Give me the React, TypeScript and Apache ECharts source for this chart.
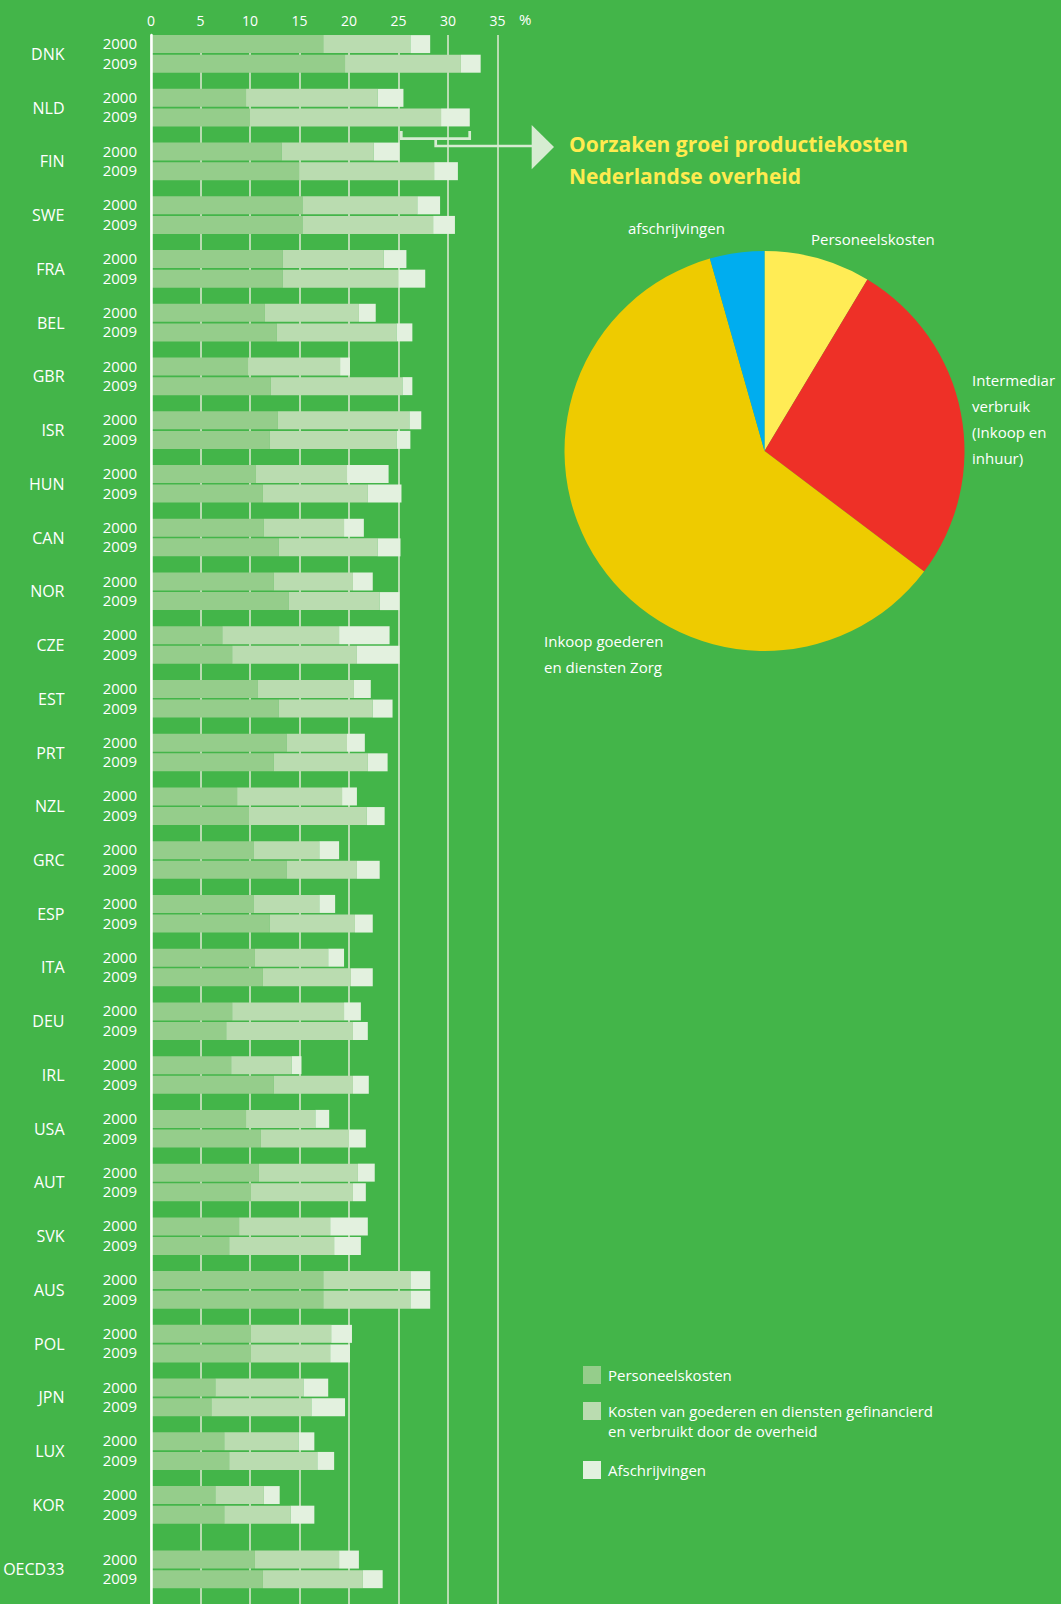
import React, { useEffect, useRef } from "react";
import * as echarts from "echarts";

// ---------- data ----------
const countries = ["DNK","NLD","FIN","SWE","FRA","BEL","GBR","ISR","HUN","CAN","NOR","CZE","EST","PRT","NZL","GRC","ESP","ITA","DEU","IRL","USA","AUT","SVK","AUS","POL","JPN","LUX","KOR","OECD33"];
const years = ["2000", "2009"];
const xTicks = [0, 5, 10, 15, 20, 25, 30, 35];
const segmentNames = ["Personeelskosten", "Kosten van goederen en diensten gefinancierd\nen verbruikt door de overheid", "Afschrijvingen"];

const pers2000 = [17.4, 9.6, 13.2, 15.3, 13.3, 11.5, 9.8, 12.8, 10.6, 11.4, 12.4, 7.2, 10.8, 13.7, 8.7, 10.4, 10.4, 10.5, 8.2, 8.1, 9.6, 10.9, 8.9, 17.4, 10.1, 6.5, 7.4, 6.5, 10.5];
const goods2000 = [8.8, 13.3, 9.3, 11.6, 10.2, 9.5, 9.3, 13.3, 9.2, 8.1, 8.0, 11.8, 9.7, 6.1, 10.6, 6.6, 6.6, 7.4, 11.3, 6.1, 7.0, 10.0, 9.2, 8.8, 8.1, 8.9, 7.5, 4.9, 8.5];
const afs2000 = [2.0, 2.6, 2.6, 2.3, 2.3, 1.7, 1.0, 1.2, 4.2, 2.0, 2.0, 5.1, 1.7, 1.8, 1.5, 2.0, 1.6, 1.6, 1.7, 1.0, 1.4, 1.7, 3.8, 2.0, 2.1, 2.5, 1.6, 1.6, 2.0];
const pers2009 = [19.6, 10.0, 15.0, 15.3, 13.3, 12.7, 12.1, 12.0, 11.3, 12.9, 13.9, 8.2, 12.9, 12.4, 9.9, 13.7, 12.0, 11.3, 7.6, 12.4, 11.1, 10.1, 7.9, 17.4, 10.1, 6.1, 7.9, 7.4, 11.3];
const goods2009 = [11.7, 19.3, 13.6, 13.2, 11.7, 12.1, 13.3, 12.8, 10.6, 10.0, 9.2, 12.6, 9.5, 9.5, 11.9, 7.1, 8.6, 8.9, 12.8, 8.0, 8.9, 10.3, 10.6, 8.8, 8.0, 10.1, 8.9, 6.7, 10.1];
const afs2009 = [2.0, 2.9, 2.4, 2.2, 2.7, 1.6, 1.0, 1.4, 3.4, 2.3, 2.0, 4.3, 2.0, 2.0, 1.8, 2.3, 1.8, 2.2, 1.5, 1.6, 1.7, 1.3, 2.7, 2.0, 2.0, 3.4, 1.7, 2.4, 2.0];

const pieNames = ["Personeelskosten", "Intermediar\nverbruik\n(Inkoop en\ninhuur)", "Inkoop goederen\nen diensten Zorg", "afschrijvingen"];
const pieValues = [8.6, 26.7, 60.3, 4.4];

const titleText = "Oorzaken groei productiekosten\nNederlandse overheid";

// ---------- style ----------
const BG = "#43b549";
const SEG_COLORS = ["#95cd8b", "#badcb0", "#e3f1df"];
const PIE_COLORS = ["#ffec55", "#ee3027", "#eecb00", "#00adef"];
const GRID_COLOR = "#b8dcb1";
const ARROW = "#d6ecd1";
const FONT = "Open Sans";

// layout in y-axis units (one unit = one country group)
const TOP_PX = 35;
const BOTTOM_PX = 1604;
const CENTER0_PX = 53.9;
const PITCH_PX = 53.74;
const OFF = 9.8 / PITCH_PX;
const BAR_H = 18 / PITCH_PX;
const EXTRA_GAP = 0.2; // extra space before OECD33

const rowPos = (i: number) => (i < countries.length - 1 ? i : i + EXTRA_GAP);

export default function App() {
  const ref = useRef<HTMLDivElement>(null);

  useEffect(() => {
    if (!ref.current) return;
    const chart = echarts.init(ref.current, undefined, { renderer: "svg" });

    const byYear = [
      [pers2000, goods2000, afs2000],
      [pers2009, goods2009, afs2009],
    ];

    const segSeries = [0, 1, 2].map((s) => {
      const data: number[][] = [];
      countries.forEach((_, i) => {
        years.forEach((__, j) => {
          const segs = byYear[j];
          let start = 0;
          for (let k = 0; k < s; k++) start += segs[k][i];
          const end = start + segs[s][i];
          data.push([start, end, rowPos(i) + (j === 0 ? -OFF : OFF)]);
        });
      });
      return {
        type: "custom",
        name: segmentNames[s],
        xAxisIndex: 0,
        yAxisIndex: 0,
        encode: { x: [0, 1], y: 2 },
        silent: true,
        z: 2,
        renderItem: (params: any, api: any) => {
          const p0 = api.coord([api.value(0), api.value(2)]);
          const p1 = api.coord([api.value(1), api.value(2)]);
          const h = api.size([0, BAR_H])[1];
          return {
            type: "rect",
            shape: { x: p0[0], y: p0[1] - h / 2, width: p1[0] - p0[0], height: h },
            style: { fill: SEG_COLORS[s] },
          };
        },
        data,
      };
    });

    const labelSeries = {
      type: "custom",
      xAxisIndex: 0,
      yAxisIndex: 0,
      encode: { x: 0, y: 1 },
      silent: true,
      z: 3,
      clip: false,
      renderItem: (params: any, api: any) => {
        const i = api.value(2);
        const pos = api.value(1);
        const c = api.coord([0, pos]);
        const a = api.coord([0, pos - OFF]);
        const b = api.coord([0, pos + OFF]);
        const base = { fill: "#ffffff", fontFamily: FONT, verticalAlign: "middle" };
        return {
          type: "group",
          children: [
            { type: "text", style: { ...base, text: countries[i], x: 64.5, y: c[1], align: "right", fontSize: 16 } },
            { type: "text", style: { ...base, text: years[0], x: 137, y: a[1] - 1, align: "right", fontSize: 15 } },
            { type: "text", style: { ...base, text: years[1], x: 137, y: b[1] - 1, align: "right", fontSize: 15 } },
          ],
        };
      },
      data: countries.map((_, i) => [0, rowPos(i), i]),
    };

    const pieLabelPos = [
      { x: 811, y: 239, verticalAlign: "middle" },
      { x: 972, y: 366.6, verticalAlign: "top" },
      { x: 544, y: 628, verticalAlign: "top" },
      { x: 628, y: 228, verticalAlign: "middle" },
    ];

    const pieSeries = {
      type: "pie",
      center: [764.5, 451],
      radius: 200,
      startAngle: 90,
      clockwise: true,
      silent: true,
      itemStyle: { borderWidth: 0 },
      label: {
        show: true,
        position: "outside",
        formatter: "{b}",
        color: "#ffffff",
        fontFamily: FONT,
        fontSize: 15,
        lineHeight: 26,
        overflow: "none",
        width: 200,
      },
      labelLine: { show: false },
      labelLayout: (p: any) => {
        const l = pieLabelPos[p.dataIndex];
        return { x: l.x, y: l.y, align: "left", verticalAlign: l.verticalAlign };
      },
      data: pieNames.map((n, i) => ({ name: n, value: pieValues[i], itemStyle: { color: PIE_COLORS[i] } })),
    };

    const legendY = [1366, 1402, 1461];
    const legendGraphics: any[] = [];
    segmentNames.forEach((n, i) => {
      legendGraphics.push({
        type: "rect",
        shape: { x: 583, y: legendY[i], width: 18, height: 18 },
        style: { fill: SEG_COLORS[i] },
      });
      legendGraphics.push({
        type: "text",
        style: {
          text: n,
          x: 608,
          y: i === 1 ? legendY[i] - 0.5 : legendY[i] + 9,
          fill: "#ffffff",
          fontFamily: FONT,
          fontSize: 15,
          lineHeight: 19.5,
          verticalAlign: i === 1 ? "top" : "middle",
        },
      });
    });

    const option: any = {
      animation: false,
      backgroundColor: BG,
      textStyle: { fontFamily: FONT },
      title: {
        text: titleText,
        left: 564,
        top: 123,
        textStyle: { color: "#ffeb4f", fontSize: 21, fontWeight: "bold", fontFamily: FONT, lineHeight: 32 },
      },
      grid: { left: 151, top: TOP_PX, width: 346.5, height: BOTTOM_PX - TOP_PX },
      xAxis: {
        type: "value",
        position: "top",
        min: xTicks[0],
        max: xTicks[xTicks.length - 1],
        interval: 5,
        axisLine: { show: false },
        axisTick: { show: false },
        axisLabel: { color: "#ffffff", fontSize: 14, margin: 8, fontFamily: FONT },
        splitLine: { show: true, lineStyle: { color: GRID_COLOR, width: 2 } },
      },
      yAxis: {
        type: "value",
        inverse: true,
        min: (TOP_PX - CENTER0_PX) / PITCH_PX,
        max: (BOTTOM_PX - CENTER0_PX) / PITCH_PX,
        z: 5,
        axisLine: { show: true, lineStyle: { color: "#ffffff", width: 2.5 } },
        axisTick: { show: false },
        axisLabel: { show: false },
        splitLine: { show: false },
      },
      graphic: [
        { type: "text", style: { text: "%", x: 519, y: 19, fill: "#ffffff", fontFamily: FONT, fontSize: 15, verticalAlign: "middle" } },
        {
          type: "polyline",
          shape: { points: [[401.3, 131], [401.3, 138.7], [469.7, 138.7], [469.7, 131]] },
          style: { stroke: ARROW, lineWidth: 2.7, fill: null },
          z: 10,
        },
        {
          type: "polyline",
          shape: { points: [[435.7, 138.7], [435.7, 146], [533, 146]] },
          style: { stroke: ARROW, lineWidth: 2.7, fill: null },
          z: 10,
        },
        {
          type: "polygon",
          shape: { points: [[531.7, 125], [554, 147], [531.7, 169.3]] },
          style: { fill: ARROW },
          z: 10,
        },
        ...legendGraphics,
      ],
      series: [...segSeries, labelSeries, pieSeries],
    };

    chart.setOption(option);
    return () => chart.dispose();
  }, []);

  return (
    <div
      ref={ref}
      style={{ position: "absolute", left: 0, top: 0, width: 1061, height: 1604, background: BG }}
    />
  );
}
